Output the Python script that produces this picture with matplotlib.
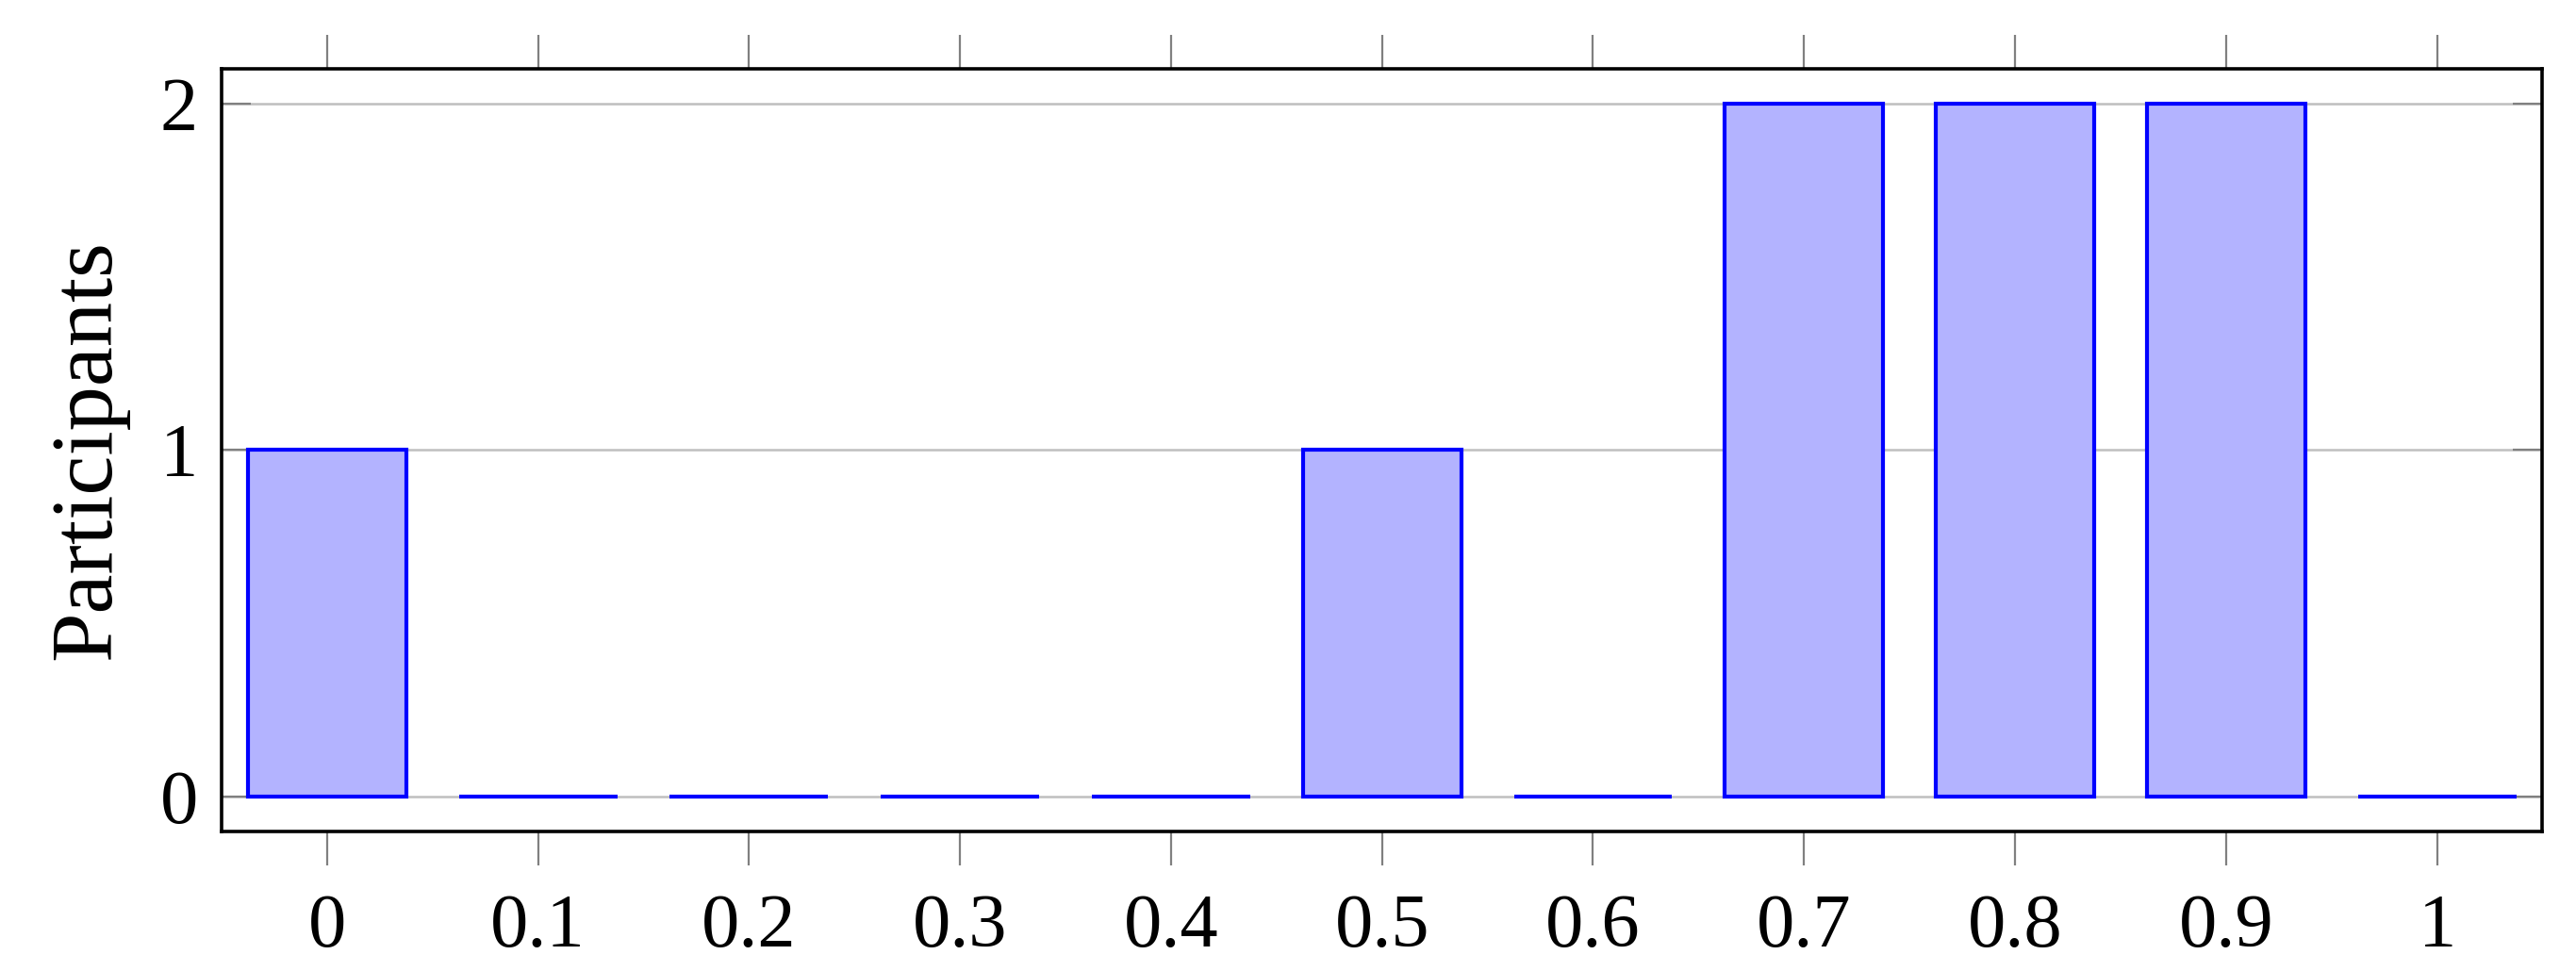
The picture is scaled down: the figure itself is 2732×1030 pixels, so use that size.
import matplotlib
matplotlib.use('Agg')
import matplotlib.pyplot as plt
import numpy as np

# score bins and participant counts
scores = [0.0, 0.1, 0.2, 0.3, 0.4, 0.5, 0.6, 0.7, 0.8, 0.9, 1.0]
participants = [1, 0, 0, 0, 0, 1, 0, 2, 2, 2, 0]
tick_labels = ['0', '0.1', '0.2', '0.3', '0.4', '0.5', '0.6', '0.7', '0.8', '0.9', '1']

plt.rcParams.update({
    'font.family': ['Liberation Serif', 'DejaVu Serif'],
    'font.size': 29,
})

fig = plt.figure(figsize=(13.66, 5.15), dpi=200)
ax = fig.add_axes([0.086, 0.144, 0.901, 0.785])

ax.bar(scores, participants, width=0.075, color='#b3b3ff',
       edgecolor='#0000ff', linewidth=1.5, zorder=3)

ax.set_xlim(-0.05, 1.05)
ax.set_ylim(-0.1, 2.1)
ax.set_xticks(scores)
ax.set_xticklabels(tick_labels)
ax.set_yticks([0, 1, 2])

ax.yaxis.grid(True, color='#bfbfbf', linewidth=0.9, zorder=0)
ax.set_axisbelow(True)

ax.tick_params(axis='x', direction='out', top=True, bottom=True,
               length=13, width=0.8, color='#808080', pad=11)
ax.tick_params(axis='y', direction='in', left=True, right=True,
               length=11, width=0.8, color='#808080', pad=9)

for sp in ax.spines.values():
    sp.set_linewidth(1.3)
    sp.set_color('black')

ax.set_ylabel('Participants', fontsize=34, labelpad=12)

fig.savefig('out.png', dpi=200)
